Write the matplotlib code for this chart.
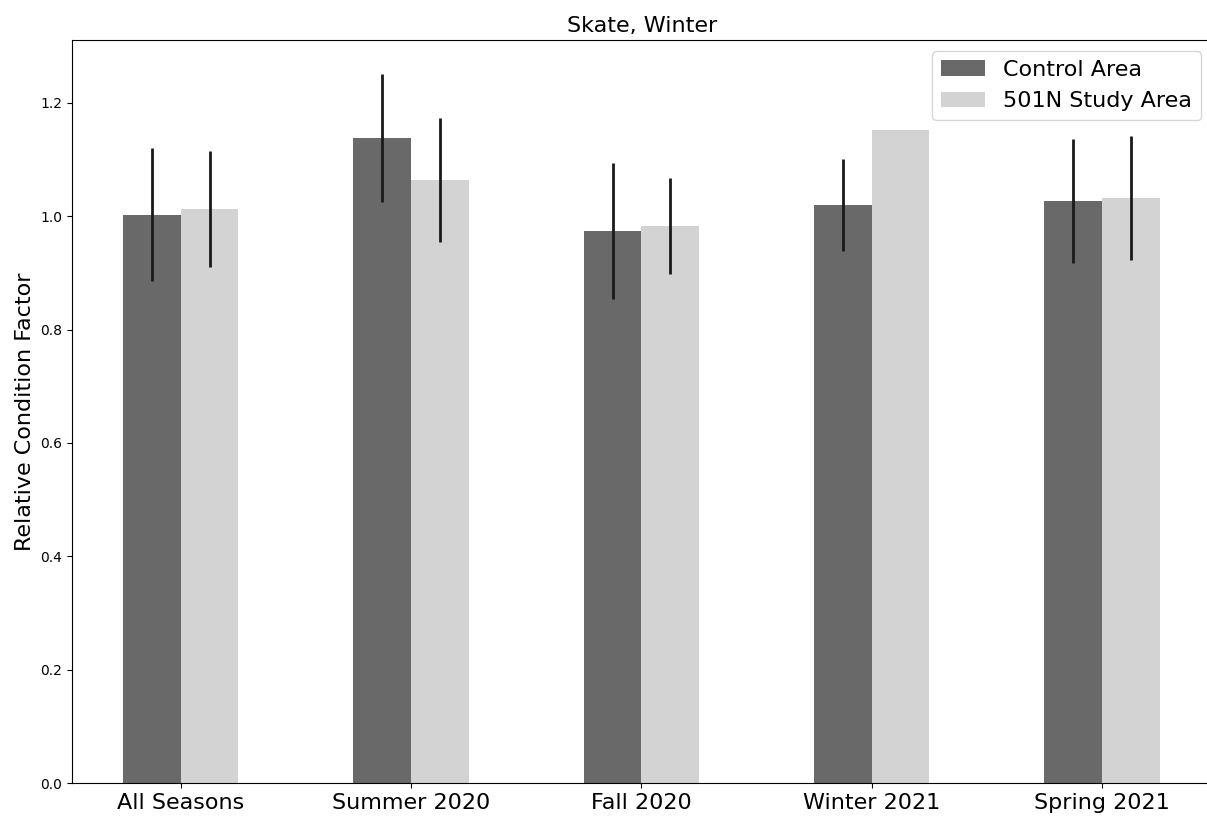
import matplotlib
matplotlib.use('Agg')
import matplotlib.pyplot as plt
import numpy as np

seasons = ['All Seasons', 'Summer 2020', 'Fall 2020', 'Winter 2021', 'Spring 2021']
control = [1.003, 1.138, 0.974, 1.020, 1.027]
control_err = [0.117, 0.113, 0.120, 0.081, 0.110]
study = [1.013, 1.064, 0.983, 1.152, 1.032]
study_err = [0.102, 0.110, 0.085, np.nan, 0.109]
legend_labels = ['Control Area', '501N Study Area']

fig = plt.figure(figsize=(12.07, 8.16), dpi=100)
# right edge of the axes is cut off in the reference
ax = fig.add_axes([0.0597, 0.0404, 0.9445, 0.9106])
ax.spines['right'].set_visible(False)

x = np.arange(len(seasons))
width = 0.25
ax.bar(x - width / 2, control, width, color='#696969', label=legend_labels[0],
       yerr=control_err, error_kw=dict(ecolor='#1a1a1a', elinewidth=2, capsize=0))
ax.bar(x + width / 2, study, width, color='#d3d3d3', label=legend_labels[1],
       yerr=study_err, error_kw=dict(ecolor='#1a1a1a', elinewidth=2, capsize=0))

ax.set_xticks(x)
ax.set_xticklabels(seasons, fontsize=16)
ax.tick_params(axis='y', labelsize=10)
ax.set_xlim(-0.472, 4.478)
ax.set_ylim(0, 1.311)
ax.set_ylabel('Relative Condition Factor', fontsize=16)
ax.set_title('Skate, Winter', fontsize=16)
ax.legend(loc='upper right', fontsize=16)

fig.savefig('out.png', dpi=100)
